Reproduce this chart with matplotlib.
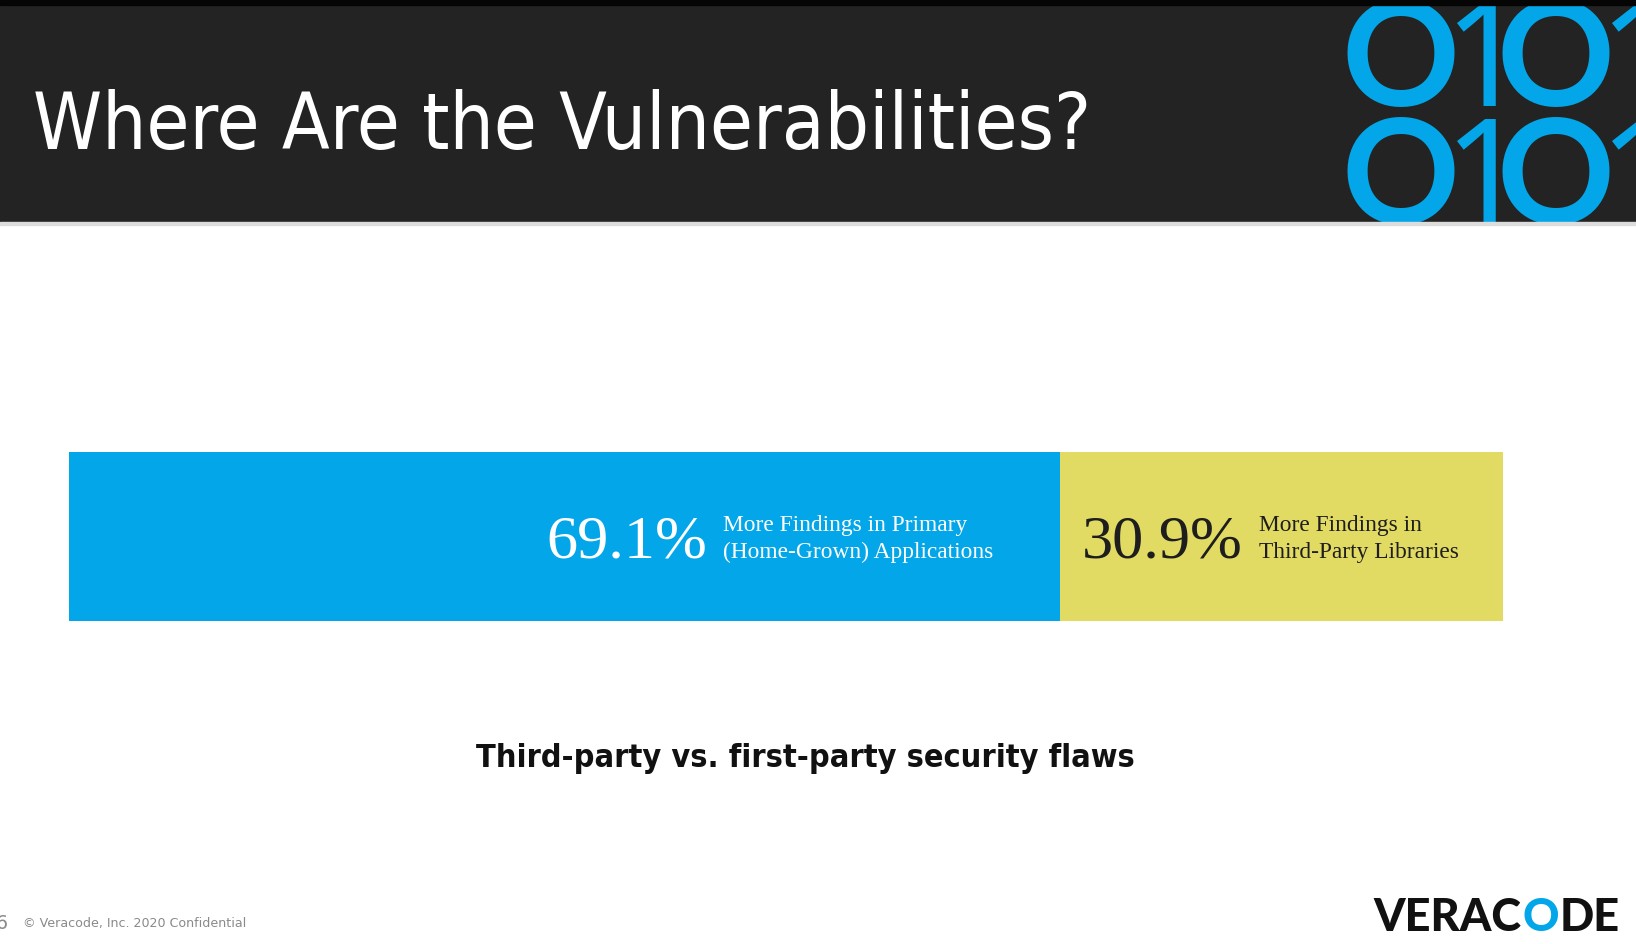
import matplotlib
matplotlib.use('Agg')
import matplotlib.pyplot as plt
from matplotlib.patches import Rectangle
from matplotlib.textpath import TextPath
from matplotlib.font_manager import FontProperties

W, H, DPI = 1636, 944, 100

# ---- data ----
categories = ['Primary (Home-Grown) Applications', 'Third-Party Libraries']
shares = [69.1, 30.9]
pct_labels = ['69.1%', '30.9%']
desc_line1 = ['More Findings in Primary', 'More Findings in']
desc_line2 = ['(Home-Grown) Applications', 'Third-Party Libraries']
bar_colors = ['#03A6E8', '#E2DB63']
label_colors = ['white', '#1e1e1e']

title = 'Where Are the Vulnerabilities?'
subtitle = 'Third-party vs. first-party security flaws'
footer = '\u00a9 Veracode, Inc. 2020 Confidential'
page_no = '6'
binary_rows = ['O1O1', 'O1O1']
logo_parts = ['VERAC', 'O', 'DE']
logo_colors = ['#111111', '#03A6E8', '#111111']

BLUE = '#03A6E8'

fig = plt.figure(figsize=(W / DPI, H / DPI), dpi=DPI)
fig.patch.set_facecolor('white')


def fx(x):
    return x / W


def fy(y):
    return 1 - y / H


def ink(s, fp):
    e = TextPath((0, 0), s, size=100, prop=fp).get_extents()
    return e.x0 / 100, e.y0 / 100, e.width / 100, e.height / 100


def size_for_width(s, fp, wpx):
    return wpx / ink(s, fp)[2] * 72 / DPI


def size_for_height(s, fp, hpx):
    return hpx / ink(s, fp)[3] * 72 / DPI


def put(s, fp, x_left, y_base, fs, color, ha='left'):
    return fig.text(fx(x_left), fy(y_base), s, fontproperties=fp, fontsize=fs,
                    color=color, ha=ha, va='baseline')


# ---- header ----
HB = 222
hax = fig.add_axes([0, fy(HB), 1, HB / H])
hax.set_xlim(0, W)
hax.set_ylim(HB, 0)
hax.axis('off')
hax.add_patch(Rectangle((0, 0), W, HB, color='#232323', zorder=0))
hax.add_patch(Rectangle((0, 0), W, 5, color='#050505', zorder=3))
fig.add_artist(Rectangle((0, fy(225)), 1, 3 / H, transform=fig.transFigure,
                         color='#dcdcdc', zorder=1))

fp_title = FontProperties(family='DejaVu Sans', stretch='condensed')
fs_title = size_for_width(title, fp_title, 1050)
put(title, fp_title, 33, 149, fs_title, 'white')

# binary decoration
fp_O = FontProperties(family=['Lato', 'DejaVu Sans'], weight='bold')
fp_1 = FontProperties(family=['Noto Sans', 'DejaVu Sans'], weight='bold')
fs_O = size_for_height('O', fp_O, 108)
fs_1 = size_for_height('1', fp_1, 104)
xs = [1347, 1457, 1502, 1612]
baselines = [106, 224]
for row, yb in zip(binary_rows, baselines):
    for ch, x in zip(row, xs):
        fp = fp_O if ch == 'O' else fp_1
        fs = fs_O if ch == 'O' else fs_1
        x0 = ink(ch, fp)[0] * fs * DPI / 72
        hax.text(x - x0, yb, ch, fontproperties=fp, fontsize=fs, color=BLUE,
                 ha='left', va='baseline', clip_on=True, zorder=2)

# ---- stacked bar ----
ax = fig.add_axes([fx(69), fy(621), fx(1503) - fx(69), (621 - 452) / H])
left = 0
for v, c in zip(shares, bar_colors):
    ax.barh(0, v, left=left, height=1.0, color=c, edgecolor='none')
    left += v
ax.set_xlim(0, sum(shares))
ax.set_ylim(-0.5, 0.5)
ax.axis('off')

fp_serif = FontProperties(family='Liberation Serif')
fs_pct = size_for_width(pct_labels[0], fp_serif, 156)
fs_desc = size_for_width(desc_line2[0], fp_serif, 268)

# first segment labels
put(pct_labels[0], fp_serif, 546, 558, fs_pct, label_colors[0])
put(desc_line1[0], fp_serif, 723, 531, fs_desc, label_colors[0])
put(desc_line2[0], fp_serif, 723, 558, fs_desc, label_colors[0])
# second segment labels
put(pct_labels[1], fp_serif, 1082, 558, fs_pct, label_colors[1])
put(desc_line1[1], fp_serif, 1259, 531, fs_desc, label_colors[1])
put(desc_line2[1], fp_serif, 1259, 558, fs_desc, label_colors[1])

# ---- subtitle ----
fp_sub = FontProperties(family='DejaVu Sans', stretch='condensed', weight='bold')
fs_sub = size_for_width(subtitle, fp_sub, 657)
put(subtitle, fp_sub, 476, 767, fs_sub, '#111111')

# ---- footer ----
fp_foot = FontProperties(family='DejaVu Sans')
fs_foot = size_for_width(footer, fp_foot, 220)
put(footer, fp_foot, 23, 927, fs_foot, '#8a8a8a')
put(page_no, fp_foot, -4, 929, fs_foot * 1.5, '#8a8a8a')

# ---- logo ----
fp_logo = FontProperties(family=['Lato', 'DejaVu Sans'], weight='black')
fs_logo = size_for_width(''.join(logo_parts), fp_logo, 244)
renderer = fig.canvas.get_renderer()
xcur = 1373
for part, col in zip(logo_parts, logo_colors):
    t = put(part, fp_logo, xcur, 931, fs_logo, col)
    bb = t.get_window_extent(renderer)
    xcur = bb.x1 + 1

fig.savefig('out.png', dpi=DPI, facecolor='white')
